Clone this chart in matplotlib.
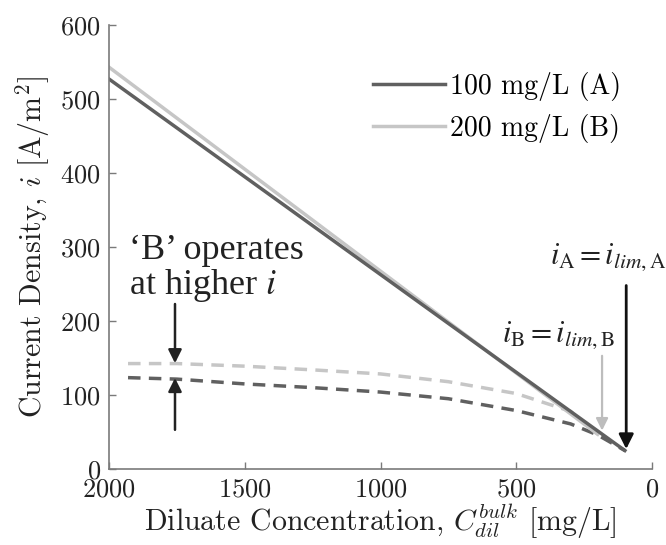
import numpy as np
import matplotlib
matplotlib.use("Agg")
import matplotlib.pyplot as plt

plt.rcParams["font.family"] = "serif"
plt.rcParams["font.serif"] = ["cmr10"]
plt.rcParams["mathtext.fontset"] = "cm"
plt.rcParams["axes.formatter.use_mathtext"] = True
plt.rcParams["lines.scale_dashes"] = False

# operating lines (solid) and limiting current (dashed)
c_A = [2000, 100]
i_A = [527, 25]
c_B = [2000, 200]
i_B = [543, 47]

c_lim_A = [1930, 1750, 1500, 1250, 1000, 750, 500, 300, 200, 100]
i_lim_A = [123.5, 121.5, 115, 110, 104, 95, 79, 61, 46, 25]
c_lim_B = [1930, 1750, 1500, 1250, 1000, 750, 500, 300, 200]
i_lim_B = [142.5, 142.5, 139, 134, 128.5, 118, 102, 78, 47]

xticks = [2000, 1500, 1000, 500, 0]
yticks = [0, 100, 200, 300, 400, 500, 600]

dark = "#606060"
light = "#c6c6c6"
axis_grey = "#7a7a7a"
ink = "#222222"

fig = plt.figure(figsize=(6.66, 5.45), dpi=100)
ax = fig.add_axes([0.1637, 0.1394, 0.8153, 0.8147])

ax.plot(c_lim_A, i_lim_A, color=dark, lw=2.5, dashes=(9, 6))
ax.plot(c_lim_B, i_lim_B, color=light, lw=2.5, dashes=(9, 6))
ax.plot(c_B, i_B, color=light, lw=2.5, label="200 mg/L (B)")
ax.plot(c_A, i_A, color=dark, lw=2.5, label="100 mg/L (A)")

ax.set_xlim(2000, 0)
ax.set_ylim(0, 600)
ax.set_xticks(xticks)
ax.set_yticks(yticks)
ax.tick_params(direction="in", length=5, width=1, colors=axis_grey,
               labelcolor=ink, labelsize=19, pad=6)
for side in ("top", "right"):
    ax.spines[side].set_visible(False)
for side in ("left", "bottom"):
    ax.spines[side].set_color(axis_grey)
    ax.spines[side].set_linewidth(1.2)

ax.set_xlabel(r"Diluate Concentration, $C_{dil}^{bulk}$ [mg/L]", fontsize=21.5,
              color=ink, labelpad=1)
ax.set_ylabel(r"Current Density, $i$ [A/m$^2$]", fontsize=21.5,
              color=ink, labelpad=6)

handles, labels = ax.get_legend_handles_labels()
leg = ax.legend(handles[::-1], labels[::-1], loc="upper right",
                bbox_to_anchor=(0.99, 0.95), frameon=False, fontsize=20,
                handlelength=2.6, handletextpad=0.2, labelspacing=0.45)

# annotations
ax.text(1925, 318, "\u2018B\u2019 operates\nat higher $i$", ha="left",
        va="top", linespacing=1.0, family="Liberation Serif", fontsize=26,
        color=ink, math_fontfamily="stix")
ax.annotate("", xy=(1757, 143), xytext=(1757, 223),
            arrowprops=dict(arrowstyle="-|>", color=ink, lw=1.8,
                            mutation_scale=20, shrinkA=0, shrinkB=0))
ax.annotate("", xy=(1757, 123), xytext=(1757, 53),
            arrowprops=dict(arrowstyle="-|>", color=ink, lw=1.8,
                            mutation_scale=20, shrinkA=0, shrinkB=0))

ax.text(376, 278, r"$i_{\mathrm{A}} = i_{lim,\mathrm{A}}$", ha="left",
        va="baseline", fontsize=22, color=ink, math_fontfamily="stix",
        clip_on=False)
ax.annotate("", xy=(95, 27), xytext=(95, 248),
            arrowprops=dict(arrowstyle="-|>", color="#111111", lw=2.0,
                            mutation_scale=22, shrinkA=0, shrinkB=0))

ax.text(552, 172, r"$i_{\mathrm{B}} = i_{lim,\mathrm{B}}$", ha="left",
        va="baseline", fontsize=22, color=ink, math_fontfamily="stix")
ax.annotate("", xy=(184, 52), xytext=(184, 153),
            arrowprops=dict(arrowstyle="-|>", color="#bdbdbd", lw=1.6,
                            mutation_scale=18, shrinkA=0, shrinkB=0))

fig.savefig("out.png", dpi=100)
